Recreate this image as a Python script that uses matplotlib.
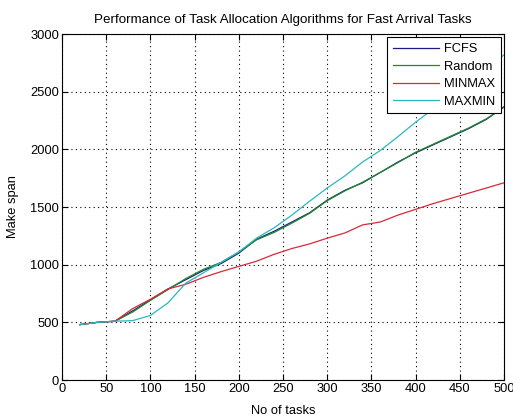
import matplotlib
matplotlib.use("Agg")
import matplotlib.pyplot as plt

plt.rcParams['font.family'] = ['Liberation Sans', 'DejaVu Sans']

tasks = [20, 40, 60, 80, 100, 120, 140, 160, 180, 200, 220, 240, 260,
         280, 300, 320, 340, 360, 380, 400, 420, 440, 460, 480, 500]
fcfs = [480, 500, 510, 600, 695, 790, 870, 950, 1010, 1100, 1220, 1290, 1370,
        1450, 1560, 1645, 1710, 1800, 1890, 1970, 2040, 2110, 2180, 2260, 2370]
random_ = [480, 500, 510, 590, 690, 785, 880, 960, 1020, 1110, 1215, 1280, 1360,
           1445, 1555, 1640, 1715, 1800, 1885, 1975, 2045, 2115, 2185, 2265, 2365]
minmax = [480, 500, 510, 620, 700, 790, 830, 890, 940, 985, 1030, 1090, 1140,
          1180, 1230, 1275, 1345, 1370, 1430, 1480, 1530, 1575, 1620, 1665, 1710]
maxmin = [480, 500, 510, 515, 560, 670, 840, 930, 1020, 1110, 1230, 1320, 1430,
          1550, 1665, 1770, 1890, 1990, 2110, 2236, 2350, 2465, 2580, 2700, 2820]

series_names = ["FCFS", "Random", "MINMAX", "MAXMIN"]
series_vals = [fcfs, random_, minmax, maxmin]
colors = ["#1c1c80", "#1f8a2a", "#d8283a", "#2ab8c0"]

fig = plt.figure(figsize=(5.13, 4.17), dpi=100)
ax = fig.add_axes([0.1209, 0.0887, 0.8616, 0.8297])

for name, vals, c in zip(series_names, series_vals, colors):
    ax.plot(tasks, vals, color=c, linewidth=0.9, label=name)

ax.set_xlim(0, 500)
ax.set_ylim(0, 3000)
ax.set_xticks(range(0, 501, 50))
ax.set_yticks(range(0, 3001, 500))
ax.grid(True, color='black', linestyle=(0, (1, 3)), linewidth=0.8)
ax.tick_params(direction='in', top=True, right=True, labelsize=9.3, length=4, width=0.8, pad=2)
for s in ax.spines.values():
    s.set_linewidth(0.8)

ax.set_title("Performance of Task Allocation Algorithms for Fast Arrival Tasks", fontsize=9.6, pad=8)
ax.set_xlabel("No of tasks", fontsize=9.3)
ax.set_ylabel("Make span", fontsize=9.3)
ax.yaxis.set_label_coords(-0.097, 0.5)
ax.xaxis.set_label_coords(0.5, -0.071)

leg = ax.legend(loc='upper right', fontsize=9.3, handlelength=3.6, fancybox=False,
                framealpha=1, edgecolor='black', borderaxespad=0.25, labelspacing=0.42,
                handletextpad=0.35, borderpad=0.45)
leg.get_frame().set_linewidth(0.8)

fig.savefig("out.png", dpi=100)
